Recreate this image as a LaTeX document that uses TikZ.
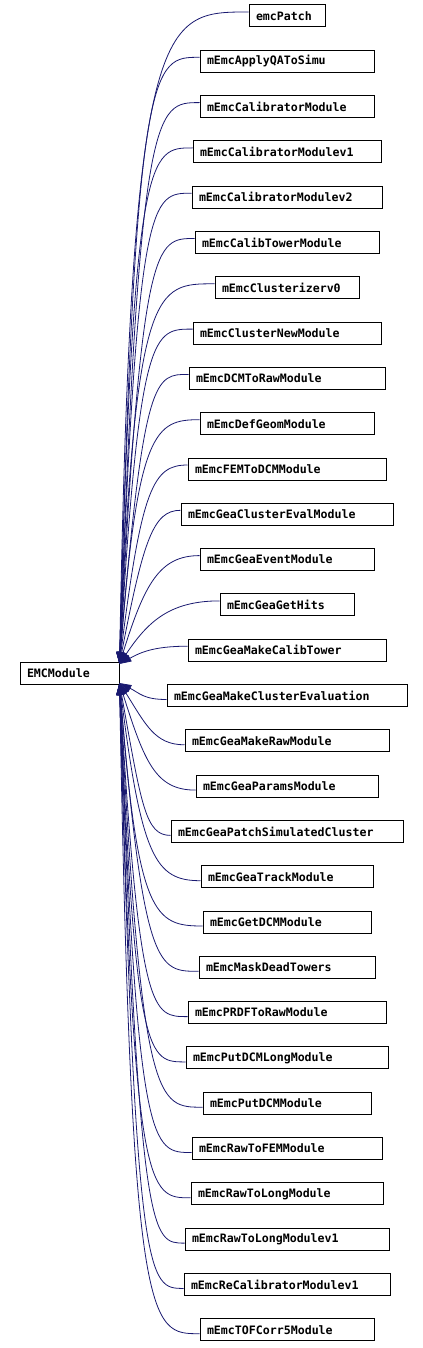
\documentclass[tikz,border=0pt]{standalone}
\usepackage{fontspec}
\newfontfamily\clsfont{DejaVu Sans Mono}
\usetikzlibrary{arrows.meta}
\definecolor{edgeblue}{HTML}{191970}

\begin{document}
\begin{tikzpicture}[x=0.75pt, y=-0.75pt,
  cls/.style={draw=black, line width=0.75pt, fill=white, minimum height=16.5pt,
    inner xsep=5.25pt, inner ysep=0pt, align=left, text width=0.75pt*#1-10.5pt,
    font=\clsfont\bfseries\fontsize{8.7}{10}\selectfont},
  inh/.style={draw=edgeblue, line width=0.6pt, -{Triangle[length=9pt,width=5.25pt]}}]
\useasboundingbox (0,0) rectangle (423,1348);

\node[cls=99] (emc) at (69.5,673.5) {EMCModule};

\node[cls=76]  (patch)          at (287,16)     {emcPatch};
\node[cls=174] (applyqa)        at (287,61.3)   {mEmcApplyQAToSimu};
\node[cls=174] (calib)          at (287,106.6)  {mEmcCalibratorModule};
\node[cls=188] (calibv1)        at (287,151.9)  {mEmcCalibratorModulev1};
\node[cls=190] (calibv2)        at (287,197.2)  {mEmcCalibratorModulev2};
\node[cls=184] (calibtower)     at (287,242.5)  {mEmcCalibTowerModule};
\node[cls=144] (clusterv0)      at (287,287.8)  {mEmcClusterizerv0};
\node[cls=188] (clusternew)     at (287,333.1)  {mEmcClusterNewModule};
\node[cls=196] (dcmtoraw)       at (287,378.4)  {mEmcDCMToRawModule};
\node[cls=174] (defgeom)        at (287,423.7)  {mEmcDefGeomModule};
\node[cls=198] (femtodcm)       at (287,469)    {mEmcFEMToDCMModule};
\node[cls=212] (geaclustereval) at (287,514.3)  {mEmcGeaClusterEvalModule};
\node[cls=174] (geaevent)       at (287,559.6)  {mEmcGeaEventModule};
\node[cls=134] (geagethits)     at (287,604.9)  {mEmcGeaGetHits};
\node[cls=198] (geacalibtower)  at (287,650.2)  {mEmcGeaMakeCalibTower};
\node[cls=240] (geaclustereva)  at (287,695.5)  {mEmcGeaMakeClusterEvaluation};
\node[cls=204] (gearaw)         at (287,740.8)  {mEmcGeaMakeRawModule};
\node[cls=182] (geaparams)      at (287,786.1)  {mEmcGeaParamsModule};
\node[cls=232] (geapatch)       at (287,831.4)  {mEmcGeaPatchSimulatedCluster};
\node[cls=172] (geatrack)       at (287,876.7)  {mEmcGeaTrackModule};
\node[cls=168] (getdcm)         at (287,922)    {mEmcGetDCMModule};
\node[cls=176] (maskdead)       at (287,967.3)  {mEmcMaskDeadTowers};
\node[cls=198] (prdftoraw)      at (287,1012.6) {mEmcPRDFToRawModule};
\node[cls=202] (putdcmlong)     at (287,1057.9) {mEmcPutDCMLongModule};
\node[cls=168] (putdcm)         at (287,1103.2) {mEmcPutDCMModule};
\node[cls=190] (rawtofem)       at (287,1148.5) {mEmcRawToFEMModule};
\node[cls=192] (rawtolong)      at (287,1193.8) {mEmcRawToLongModule};
\node[cls=204] (rawtolongv1)    at (287,1239.1) {mEmcRawToLongModulev1};
\node[cls=206] (recalibv1)      at (287,1284.4) {mEmcReCalibratorModulev1};
\node[cls=174] (tofcorr)        at (287,1329.7) {mEmcTOFCorr5Module};

% inheritance edges, upper half
\draw[inh] ([yshift=3pt]patch.west)          .. controls +(-87,0) and +(12,-653) .. ([yshift=-1.5pt]emc.north east);
\draw[inh] ([yshift=3pt]applyqa.west)        .. controls +(-47,0) and +(16,-608) .. ([yshift=-1.5pt]emc.north east);
\draw[inh] ([yshift=3pt]calib.west)          .. controls +(-44,0) and +(20,-562) .. ([yshift=-1.5pt]emc.north east);
\draw[inh] ([yshift=3pt]calibv1.west)        .. controls +(-43,0) and +(14,-517) .. ([yshift=-1.5pt]emc.north east);
\draw[inh] ([yshift=3pt]calibv2.west)        .. controls +(-40,0) and +(18,-472) .. ([yshift=-1.5pt]emc.north east);
\draw[inh] ([yshift=3pt]calibtower.west)     .. controls +(-39,0) and +(22,-426) .. ([yshift=-1.5pt]emc.north east);
\draw[inh] ([yshift=3pt]clusterv0.west)      .. controls +(-59,0) and +(16,-381) .. ([yshift=-1.5pt]emc.north east);
\draw[inh] ([yshift=3pt]clusternew.west)     .. controls +(-39,0) and +(20,-336) .. ([yshift=-1.5pt]emc.north east);
\draw[inh] ([yshift=3pt]dcmtoraw.west)       .. controls +(-33,0) and +(24,-291) .. ([yshift=-1.5pt]emc.north east);
\draw[inh] ([yshift=3pt]defgeom.west)        .. controls +(-44,0) and +(18,-235) .. ([yshift=-1.5pt]emc.north east);
\draw[inh] ([yshift=3pt]femtodcm.west)       .. controls +(-34,0) and +(22,-177) .. ([yshift=-1.5pt]emc.north east);
\draw[inh] ([yshift=3pt]geaclustereval.west) .. controls +(-27,0) and +(24,-125) .. ([yshift=-1.5pt]emc.north east);
\draw[inh] ([yshift=3pt]geaevent.west)       .. controls +(-40,0) and +(25,-80)  .. ([yshift=-1.5pt]emc.north east);
\draw[inh] ([yshift=3pt]geagethits.west)     .. controls +(-50,0) and +(28,-42)  .. ([yshift=-1.5pt]emc.north east);
\draw[inh] ([yshift=3pt]geacalibtower.west)  .. controls +(-35,0) and +(20,-11)  .. ([yshift=-1.5pt]emc.north east);

% lower half
\draw[inh] ([yshift=-3pt]geaclustereva.west) .. controls +(-23,0) and +(20,10)  .. ([yshift=1.5pt]emc.south east);
\draw[inh] ([yshift=-3pt]gearaw.west)        .. controls +(-30,0) and +(26,41)  .. ([yshift=1.5pt]emc.south east);
\draw[inh] ([yshift=-3pt]geaparams.west)     .. controls +(-40,0) and +(25,79)  .. ([yshift=1.5pt]emc.south east);
\draw[inh] ([yshift=-3pt]geapatch.west)      .. controls +(-25,0) and +(22,123) .. ([yshift=1.5pt]emc.south east);
\draw[inh] ([yshift=-3pt]geatrack.west)      .. controls +(-45,0) and +(22,175) .. ([yshift=1.5pt]emc.south east);
\draw[inh] ([yshift=-3pt]getdcm.west)        .. controls +(-48,0) and +(18,233) .. ([yshift=1.5pt]emc.south east);
\draw[inh] ([yshift=-3pt]maskdead.west)      .. controls +(-40,0) and +(24,289) .. ([yshift=1.5pt]emc.south east);
\draw[inh] ([yshift=-3pt]prdftoraw.west)     .. controls +(-35,0) and +(20,335) .. ([yshift=1.5pt]emc.south east);
\draw[inh] ([yshift=-3pt]putdcmlong.west)    .. controls +(-37,0) and +(16,380) .. ([yshift=1.5pt]emc.south east);
\draw[inh] ([yshift=-3pt]putdcm.west)        .. controls +(-45,0) and +(22,425) .. ([yshift=1.5pt]emc.south east);
\draw[inh] ([yshift=-3pt]rawtofem.west)      .. controls +(-40,0) and +(18,470) .. ([yshift=1.5pt]emc.south east);
\draw[inh] ([yshift=-3pt]rawtolong.west)     .. controls +(-42,0) and +(14,516) .. ([yshift=1.5pt]emc.south east);
\draw[inh] ([yshift=-3pt]rawtolongv1.west)   .. controls +(-33,0) and +(20,561) .. ([yshift=1.5pt]emc.south east);
\draw[inh] ([yshift=-3pt]recalibv1.west)     .. controls +(-35,0) and +(16,606) .. ([yshift=1.5pt]emc.south east);
\draw[inh] ([yshift=-3pt]tofcorr.west)       .. controls +(-50,0) and +(12,652) .. ([yshift=1.5pt]emc.south east);
\end{tikzpicture}
\end{document}
